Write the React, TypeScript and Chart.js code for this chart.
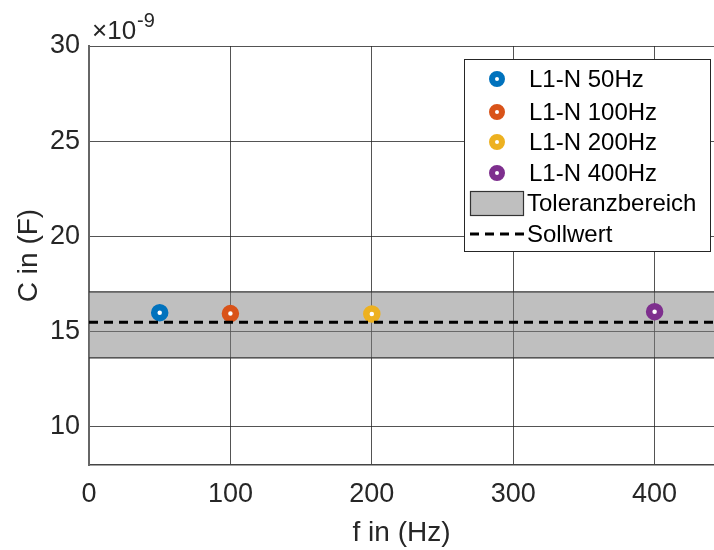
import React, { useEffect, useRef } from "react";
import { Chart, registerables } from "chart.js";

Chart.register(...registerables);

// ---- data ----
const frequencies = [50, 100, 200, 400];
const capacitances = [16.0, 15.95, 15.93, 16.05]; // ×1e-9 F
const seriesLabels = ["L1-N 50Hz", "L1-N 100Hz", "L1-N 200Hz", "L1-N 400Hz"];
const seriesColors = ["#0072BD", "#D95319", "#EDB120", "#7E2F8E"];
const toleranceLow = 13.62;
const toleranceHigh = 17.09;
const nominalValue = 15.5;
const xRange = [0, 442];
const yRange = [8, 30];
const xTicks = [0, 100, 200, 300, 400];
const yTicks = [10, 15, 20, 25, 30];
const bandLabel = "Toleranzbereich";
const nominalLabel = "Sollwert";
const xTitle = "f in (Hz)";
const yTitle = "C in (F)";
const exponentText = "-9";

const FONT = "'Liberation Sans', Arial, Helvetica, sans-serif";
const TEXT = "#262626";

const overlayPlugin = {
  id: "overlay",
  afterDraw(chart: any) {
    const { ctx, chartArea } = chart;
    ctx.save();
    // exponent label
    ctx.fillStyle = TEXT;
    ctx.textBaseline = "alphabetic";
    ctx.textAlign = "left";
    ctx.font = `26px ${FONT}`;
    const ex = chartArea.left + 3;
    const ey = chartArea.top - 7;
    ctx.fillText("\u00d710", ex, ey);
    const w = ctx.measureText("\u00d710").width;
    ctx.font = `20px ${FONT}`;
    ctx.fillText(exponentText, ex + w + 1, ey - 12);

    // legend box
    const bw = 247;
    const bh = 193;
    const bx = chartArea.right - 3 - bw;
    const by = chartArea.top + 13;
    ctx.fillStyle = "#ffffff";
    ctx.fillRect(bx, by, bw, bh);
    ctx.strokeStyle = TEXT;
    ctx.lineWidth = 1;
    ctx.strokeRect(bx + 0.5, by + 0.5, bw - 1, bh - 1);

    ctx.font = `24px ${FONT}`;
    ctx.textBaseline = "middle";
    const rowY = [20, 53, 83, 114, 144, 175];
    seriesLabels.forEach((lbl, i) => {
      const cy = by + rowY[i];
      ctx.beginPath();
      ctx.arc(bx + 33, cy, 5, 0, Math.PI * 2);
      ctx.fillStyle = "#ffffff";
      ctx.fill();
      ctx.lineWidth = 6;
      ctx.strokeStyle = seriesColors[i];
      ctx.stroke();
      ctx.fillStyle = "#000000";
      ctx.fillText(lbl, bx + 65, cy + 1);
    });
    // band patch
    const py = by + rowY[4];
    ctx.fillStyle = "#bfbfbf";
    ctx.fillRect(bx + 6, py - 12, 54, 25);
    ctx.strokeStyle = "#333333";
    ctx.lineWidth = 1.2;
    ctx.strokeRect(bx + 6.5, py - 11.5, 53, 24);
    ctx.fillStyle = "#000000";
    ctx.fillText(bandLabel, bx + 63, py + 1);
    // nominal dashes
    const ny = by + rowY[5];
    ctx.beginPath();
    ctx.setLineDash([9, 6]);
    ctx.moveTo(bx + 6, ny);
    ctx.lineTo(bx + 61, ny);
    ctx.strokeStyle = "#000000";
    ctx.lineWidth = 3;
    ctx.stroke();
    ctx.setLineDash([]);
    ctx.fillText(nominalLabel, bx + 63, ny + 1);
    ctx.restore();
  },
};

export default function App() {
  const ref = useRef<HTMLCanvasElement | null>(null);

  useEffect(() => {
    document.body.style.margin = "0";
    const canvas = ref.current;
    if (!canvas) return;

    const pointSets = frequencies.map((f, i) => ({
      type: "scatter" as const,
      label: seriesLabels[i],
      data: [{ x: f, y: capacitances[i] }],
      pointRadius: 5.5,
      pointBorderWidth: 6.5,
      pointBackgroundColor: "#ffffff",
      pointBorderColor: seriesColors[i],
      showLine: false,
    }));

    const chart = new Chart(canvas, {
      type: "scatter",
      data: {
        datasets: [
          {
            type: "line",
            label: nominalLabel,
            data: xRange.map((x) => ({ x, y: nominalValue })),
            borderColor: "#000000",
            borderWidth: 3,
            borderDash: [9, 6],
            pointRadius: 0,
            fill: false,
          } as any,
          ...pointSets,
          {
            type: "line",
            label: "band-low",
            data: xRange.map((x) => ({ x, y: toleranceLow })),
            borderColor: "#333333",
            borderWidth: 1.2,
            pointRadius: 0,
            fill: false,
          } as any,
          {
            type: "line",
            label: bandLabel,
            data: xRange.map((x) => ({ x, y: toleranceHigh })),
            borderColor: "#333333",
            borderWidth: 1.2,
            pointRadius: 0,
            backgroundColor: "rgba(128,128,128,0.5)",
            fill: "-1",
          } as any,
        ],
      },
      options: {
        responsive: false,
        animation: false,
        devicePixelRatio: 1,
        layout: { autoPadding: false, padding: { top: 46, right: 0, left: 0, bottom: 0 } },
        plugins: {
          legend: { display: false },
          tooltip: { enabled: false },
        },
        scales: {
          x: {
            type: "linear",
            min: xRange[0],
            max: xRange[1],
            afterBuildTicks: (s: any) => {
              s.ticks = xTicks.map((v) => ({ value: v }));
            },
            afterFit: (s: any) => {
              s.height = 85;
              s.paddingRight = 0;
              s.paddingLeft = 0;
            },
            ticks: {
              font: { family: FONT, size: 27 },
              color: TEXT,
              padding: 13,
              maxRotation: 0,
            },
            grid: { color: "rgba(40,40,40,0.8)", lineWidth: 1, drawTicks: false },
            border: { display: true, color: "#444444", width: 1.5 },
            title: {
              display: true,
              text: xTitle,
              font: { family: FONT, size: 28 },
              color: TEXT,
              padding: { top: 0, bottom: 0 },
            },
          },
          y: {
            type: "linear",
            min: yRange[0],
            max: yRange[1],
            afterBuildTicks: (s: any) => {
              s.ticks = yTicks.map((v) => ({ value: v }));
            },
            afterFit: (s: any) => {
              s.width = 89;
            },
            ticks: {
              font: { family: FONT, size: 27 },
              color: TEXT,
              padding: 9,
            },
            grid: { color: "rgba(40,40,40,0.8)", lineWidth: 1, drawTicks: false },
            border: { display: true, color: "#666666", width: 2 },
            title: {
              display: true,
              text: yTitle,
              font: { family: FONT, size: 28 },
              color: TEXT,
              padding: { top: 12, bottom: 0 },
            },
          },
        },
      } as any,
      plugins: [overlayPlugin],
    });

    return () => chart.destroy();
  }, []);

  return (
    <div style={{ width: 714, height: 550 }}>
      <canvas ref={ref} width={714} height={550} style={{ display: "block" }} />
    </div>
  );
}
